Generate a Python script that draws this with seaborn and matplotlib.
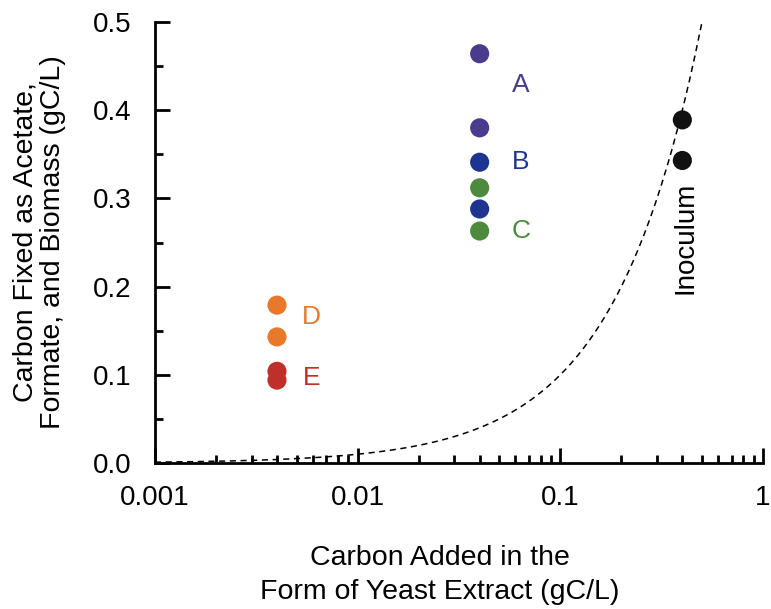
import numpy as np
import pandas as pd
import matplotlib
matplotlib.use("Agg")
import matplotlib.pyplot as plt
import seaborn as sns
from matplotlib.ticker import LogLocator, MultipleLocator, FixedLocator

sns.set_style("ticks")
plt.rcParams["font.family"] = ["Liberation Sans", "DejaVu Sans"]
plt.rcParams["text.color"] = "black"
plt.rcParams["axes.labelcolor"] = "black"
plt.rcParams["xtick.color"] = "black"
plt.rcParams["ytick.color"] = "black"
plt.rcParams["axes.edgecolor"] = "black"

# Yeast extract carbon added (gC/L) and carbon fixed (gC/L) per culture group
groups = ["A", "A", "B", "B", "C", "C", "D", "D", "E", "E", "Inoculum", "Inoculum"]
carbon_added = [0.04, 0.04, 0.04, 0.04, 0.04, 0.04, 0.004, 0.004, 0.004, 0.004, 0.4, 0.4]
carbon_fixed = [0.464, 0.380, 0.341, 0.288, 0.312, 0.263, 0.179, 0.143, 0.104, 0.094, 0.389, 0.343]

group_colors = {
    "A": "#4a3b8f",
    "B": "#1d3590",
    "C": "#4c8a3c",
    "D": "#e8782a",
    "E": "#c0302a",
    "Inoculum": "#111111",
}

df = pd.DataFrame({"group": groups, "added": carbon_added, "fixed": carbon_fixed})

# Reference line where carbon fixed equals carbon added
ref_x = np.geomspace(0.001, 0.6, 200)
ref = pd.DataFrame({"x": ref_x, "y": ref_x})

fig = plt.figure(figsize=(7.71, 6.09), dpi=100)
ax = fig.add_axes([0.201, 0.2397, 0.7886, 0.7242])

sns.lineplot(data=ref, x="x", y="y", ax=ax, color="black", lw=1.1,
             linestyle=(0, (4, 3)), zorder=1)
sns.scatterplot(data=df, x="added", y="fixed", hue="group", palette=group_colors,
                s=190, edgecolor="none", legend=False, ax=ax, zorder=3)

ax.set_xscale("log")
ax.set_xlim(0.001, 1)
ax.set_ylim(0, 0.5)

# Group labels beside the points
label_pos = {"A": (0.064, 0.428), "B": (0.064, 0.341), "C": (0.064, 0.263),
             "D": (0.0059, 0.166), "E": (0.0059, 0.096)}
for g, (lx, ly) in label_pos.items():
    ax.text(lx, ly, g, color=group_colors[g], fontsize=19, ha="center", va="center")
ax.text(0.415, 0.255, "Inoculum", rotation=90, fontsize=20, ha="center", va="center",
        color="black")

ax.yaxis.set_major_locator(MultipleLocator(0.1))
ax.yaxis.set_minor_locator(MultipleLocator(0.05))
ax.xaxis.set_major_locator(FixedLocator([0.001, 0.01, 0.1, 1]))
ax.xaxis.set_minor_locator(LogLocator(base=10, subs=np.arange(2, 10)))
ax.set_xticks([0.001, 0.01, 0.1, 1])
ax.set_xticklabels(["0.001", "0.01", "0.1", "1"])
ax.set_yticks([0, 0.1, 0.2, 0.3, 0.4, 0.5])
ax.set_yticklabels(["0.0", "0.1", "0.2", "0.3", "0.4", "0.5"])

ax.tick_params(axis="x", which="major", direction="in", length=11, width=2,
               labelsize=20, pad=16)
ax.tick_params(axis="x", which="minor", direction="in", length=6, width=2)
ax.tick_params(axis="y", which="major", direction="in", length=11, width=2,
               labelsize=20, pad=17)
ax.tick_params(axis="y", which="minor", direction="in", length=6, width=2)

for side in ["top", "right"]:
    ax.spines[side].set_visible(False)
for side in ["left", "bottom"]:
    ax.spines[side].set_linewidth(2)

ax.set_xlabel("Carbon Added in the\nForm of Yeast Extract (gC/L)", fontsize=20.5,
              linespacing=1.42)
ax.xaxis.set_label_coords(0.469, -0.186, transform=ax.transAxes)
ax.xaxis.label.set_va("top")
ax.set_ylabel("Carbon Fixed as Acetate,\nFormate, and Biomass (gC/L)", fontsize=20.5,
              labelpad=19, linespacing=1.1)

fig.savefig("out.png", dpi=100)
